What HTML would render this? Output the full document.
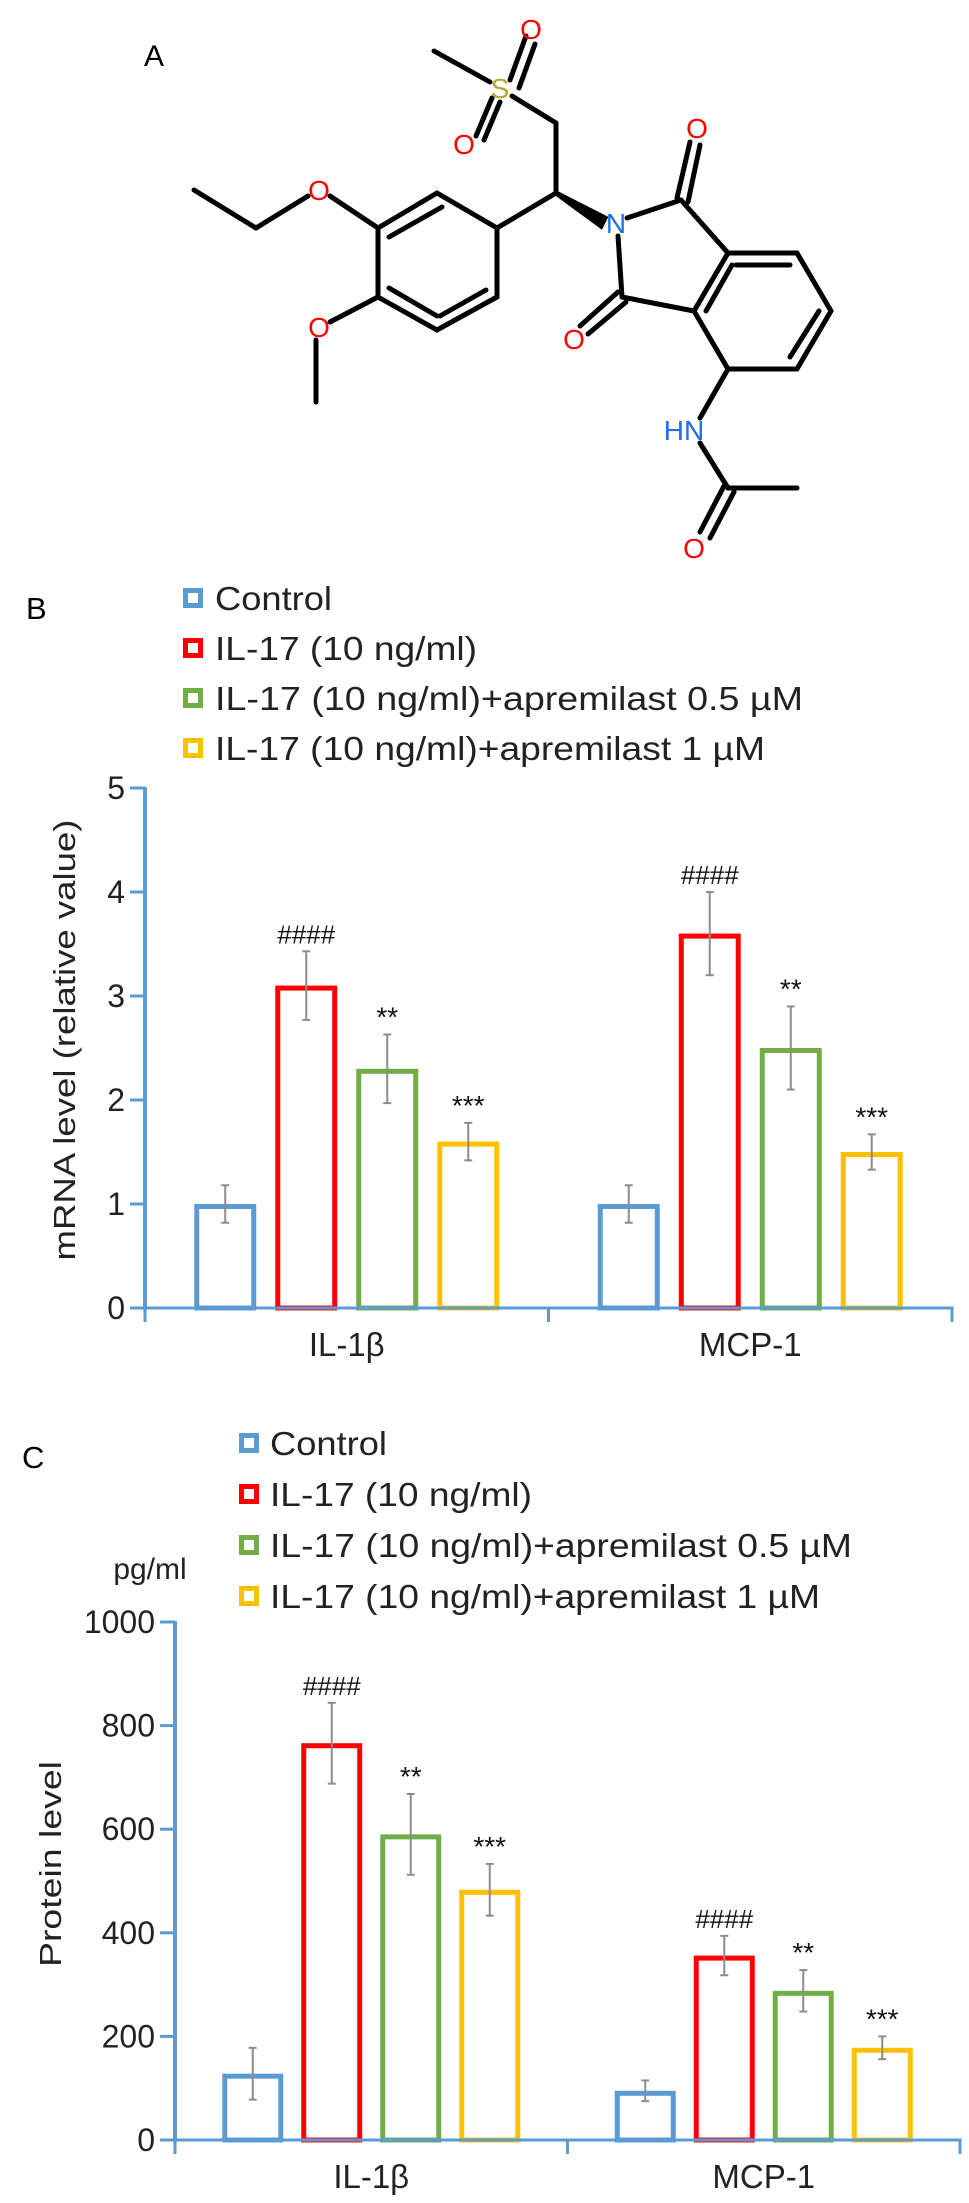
<!DOCTYPE html>
<html><head><meta charset="utf-8"><style>
html,body{margin:0;padding:0;background:#fff;}
svg{display:block;font-family:"Liberation Sans",Arial,sans-serif;}
</style></head><body>
<svg id="fig" width="969" height="2203" viewBox="0 0 969 2203" xmlns="http://www.w3.org/2000/svg">
<g stroke="#000" stroke-width="5" fill="none" stroke-linecap="round">
<text x="144" y="66" font-size="30" fill="#000" stroke="none">A</text>
<line x1="434" y1="51" x2="490" y2="82"/>
<line x1="510" y1="80" x2="526" y2="36"/><line x1="519" y1="88" x2="535" y2="44"/>
<line x1="492" y1="98" x2="476" y2="136"/><line x1="500" y1="102" x2="484" y2="140"/>
<line x1="512" y1="96" x2="556" y2="123"/>
<line x1="556" y1="123" x2="556" y2="193"/>
<line x1="556" y1="193" x2="497" y2="228"/>
<polygon points="556,193 605,218 601,226" fill="#000"/>
<polygon points="497,228 437,193 378,228 378,297 437,330 497,297" />
<line x1="442" y1="207" x2="389" y2="237"/><line x1="389" y1="288" x2="437" y2="316"/><line x1="486" y1="290" x2="440" y2="316"/>
<line x1="378" y1="228" x2="330" y2="196"/><line x1="308" y1="196" x2="256" y2="228"/><line x1="256" y1="228" x2="194" y2="190"/>
<line x1="378" y1="297" x2="330" y2="322"/><line x1="316" y1="340" x2="316" y2="402"/>
<line x1="627" y1="218" x2="681" y2="200"/><line x1="618" y1="236" x2="622" y2="297"/>
<line x1="681" y1="200" x2="728" y2="253"/><line x1="622" y1="297" x2="694" y2="311"/>
<line x1="677" y1="198" x2="690" y2="142"/><line x1="688" y1="202" x2="700" y2="145"/>
<line x1="618" y1="292" x2="580" y2="326"/><line x1="626" y1="302" x2="588" y2="334"/>
<polygon points="728,253 797,253 831,311 797,369 728,369 694,311"/>
<line x1="736" y1="265" x2="790" y2="265"/><line x1="819" y1="311" x2="790" y2="357"/><line x1="706" y1="311" x2="732" y2="265"/>
<line x1="728" y1="369" x2="700" y2="418"/>
<line x1="700" y1="443" x2="728" y2="488"/><line x1="728" y1="488" x2="797" y2="488"/>
<line x1="724" y1="486" x2="700" y2="532"/><line x1="734" y1="492" x2="710" y2="538"/>
<g stroke="none" font-size="28">
<text x="500" y="98" fill="#b8a82c" text-anchor="middle">S</text>
<text x="531" y="39" fill="#f00" text-anchor="middle">O</text>
<text x="464" y="154" fill="#f00" text-anchor="middle">O</text>
<text x="319" y="200" fill="#f00" text-anchor="middle">O</text>
<text x="319" y="337" fill="#f00" text-anchor="middle">O</text>
<text x="616" y="233" fill="#1e6ee6" text-anchor="middle">N</text>
<text x="697" y="138" fill="#f00" text-anchor="middle">O</text>
<text x="574" y="349" fill="#f00" text-anchor="middle">O</text>
<text x="684" y="440" fill="#1e6ee6" text-anchor="middle">HN</text>
<text x="694" y="558" fill="#f00" text-anchor="middle">O</text>
</g>
</g>
<g id="chartB"></g>
<g id="chartC"></g>
</svg>
<script>
const seriesNames = ["Control","IL-17 (10 ng/ml)","IL-17 (10 ng/ml)+apremilast 0.5 \u00b5M","IL-17 (10 ng/ml)+apremilast 1 \u00b5M"];
const seriesColors = ["#5b9bd5","#ff0000","#70ad47","#ffc000"];
const categories = ["IL-1\u03b2","MCP-1"];
const mrnaIL1b = [1.0, 3.1, 2.3, 1.6];
const mrnaMCP1 = [1.0, 3.6, 2.5, 1.5];
const mrnaErrIL1b = [0.18, 0.33, 0.33, 0.18];
const mrnaErrMCP1 = [0.18, 0.40, 0.40, 0.17];
const mrnaTicks = [0,1,2,3,4,5];
const protIL1b = [128, 766, 590, 483];
const protMCP1 = [95, 356, 288, 178];
const protErrIL1b = [50, 78, 78, 50];
const protErrMCP1 = [20, 38, 40, 22];
const protTicks = [0,200,400,600,800,1000];
const sigLabels = ["", "####", "**", "***"];
const NS="http://www.w3.org/2000/svg";
function mk(tag, attrs, parent){const e=document.createElementNS(NS,tag);for(const k in attrs)e.setAttribute(k,attrs[k]);parent.appendChild(e);return e;}

function drawChart(g, o){
  const y = v => o.y0 - (v - 0) / (o.max) * (o.y0 - o.yTop);
  const bandW = (o.xEnd - o.xAxis) / categories.length;
  const xc = i => o.xAxis + bandW*(i+0.5);
  const pl = mk('text',{x:o.labelX,y:o.labelY,'font-size':31,fill:'#000'},g);
  
  
  pl.textContent=o.label;
  seriesNames.forEach((n,i)=>{
    const ly = o.legY + i*o.legStep;
    const r = mk('rect',{x:o.legSqX+2.5,y:ly-7.5,width:15,height:15,fill:'#fff',stroke:seriesColors[i],'stroke-width':5},g);
    
    
    const t = mk('text',{x:o.legTextX,y:ly+12,'font-size':33,fill:'#222',textLength:o.legLens[i],lengthAdjust:'spacingAndGlyphs'},g);
    
    
    t.textContent=n;
  });
  if(o.unit){
    const u=mk('text',{x:o.unit.x,y:o.unit.y,'font-size':30,fill:'#222','text-anchor':'middle'},g);
    
    
    u.textContent=o.unit.t;
  }
  const yt = mk('text',{x:0,y:0,'font-size':31,fill:'#222','text-anchor':'middle',transform:`translate(${o.titleX},${o.titleY}) rotate(-90)`,textLength:o.titleLen,lengthAdjust:'spacingAndGlyphs'},g);
  
  
  yt.textContent=o.title;
  o.ticks.forEach(tv=>{
    const ty=y(tv);
    const tl=mk('line',{x1:o.xAxis-15,x2:o.xAxis,y1:ty,y2:ty,stroke:'#5b9bd5','stroke-width':3},g);
    
    
    const tt=mk('text',{x:o.xAxis-20,y:ty+11,'font-size':32,fill:'#222','text-anchor':'end'},g);
    
    
    tt.textContent=tv;
  });
  const ya=mk('line',{x1:o.xAxis,x2:o.xAxis,y1:y(o.max)-1,y2:o.y0+2,stroke:'#5b9bd5','stroke-width':4},g);
  
  
  const bw=o.barW, pitch=o.pitch;
  categories.forEach((c,ci)=>{
    const vals=o.vals[ci], errs=o.errs[ci];
    vals.forEach((v,si)=>{
      const cx = xc(ci) + (si-1.5)*pitch;
      const top=y(v);
      const b=mk('rect',{x:cx-bw/2+2.5,y:top+2.5,width:bw-5,height:o.y0-top-2.5,fill:'#fff',stroke:seriesColors[si],'stroke-width':5},g);
      
      
      const eh=y(v+errs[si]), el=y(v-errs[si]);
      const eg=mk('g',{stroke:'#8c8c8c','stroke-width':2},g);
      
      
      mk('line',{x1:cx,x2:cx,y1:eh,y2:el},eg);
      mk('line',{x1:cx-4,x2:cx+4,y1:eh,y2:eh},eg);
      mk('line',{x1:cx-4,x2:cx+4,y1:el,y2:el},eg);
      if(sigLabels[si]){
        const s=mk('text',{x:cx,y:eh-8,'font-size':si===1?26:28,fill:'#111','text-anchor':'middle'},g);
        
        
        s.textContent=sigLabels[si];
      }
    });
    const cl=mk('text',{x:xc(ci),y:o.y0+48,'font-size':33,fill:'#222','text-anchor':'middle'},g);
    
    
    cl.textContent=c;
  });
  const xa=mk('path',{d:`M${o.xAxis},${o.y0+14} V${o.y0} H${o.xEnd} V${o.y0+14} M${o.xAxis+bandW},${o.y0} V${o.y0+14}`,fill:'none',stroke:'#5b9bd5','stroke-width':3},g);
  
  
}

drawChart(document.getElementById('chartB'),{
  prefix:'b',label:'B',labelX:26,labelY:619,
  legSqX:183,legTextX:215,legY:598,legStep:50,legLens:[117,262,588,550],
  title:'mRNA level (relative value)',titleX:75,titleY:1040,titleLen:441,
  ticks:mrnaTicks,max:5,y0:1308,yTop:788,xAxis:145,xEnd:952,
  barW:62,pitch:81,vals:[mrnaIL1b,mrnaMCP1],errs:[mrnaErrIL1b,mrnaErrMCP1]
});
drawChart(document.getElementById('chartC'),{
  prefix:'c',label:'C',labelX:22,labelY:1468,
  legSqX:239,legTextX:270,legY:1443,legStep:51,legLens:[117,262,582,550],
  unit:{x:150,y:1579,t:'pg/ml'},
  title:'Protein level',titleX:61,titleY:1864,titleLen:206,
  ticks:protTicks,max:1000,y0:2140,yTop:1622,xAxis:175,xEnd:960,
  barW:61,pitch:79,vals:[protIL1b,protMCP1],errs:[protErrIL1b,protErrMCP1]
});
</script>
</body></html>
